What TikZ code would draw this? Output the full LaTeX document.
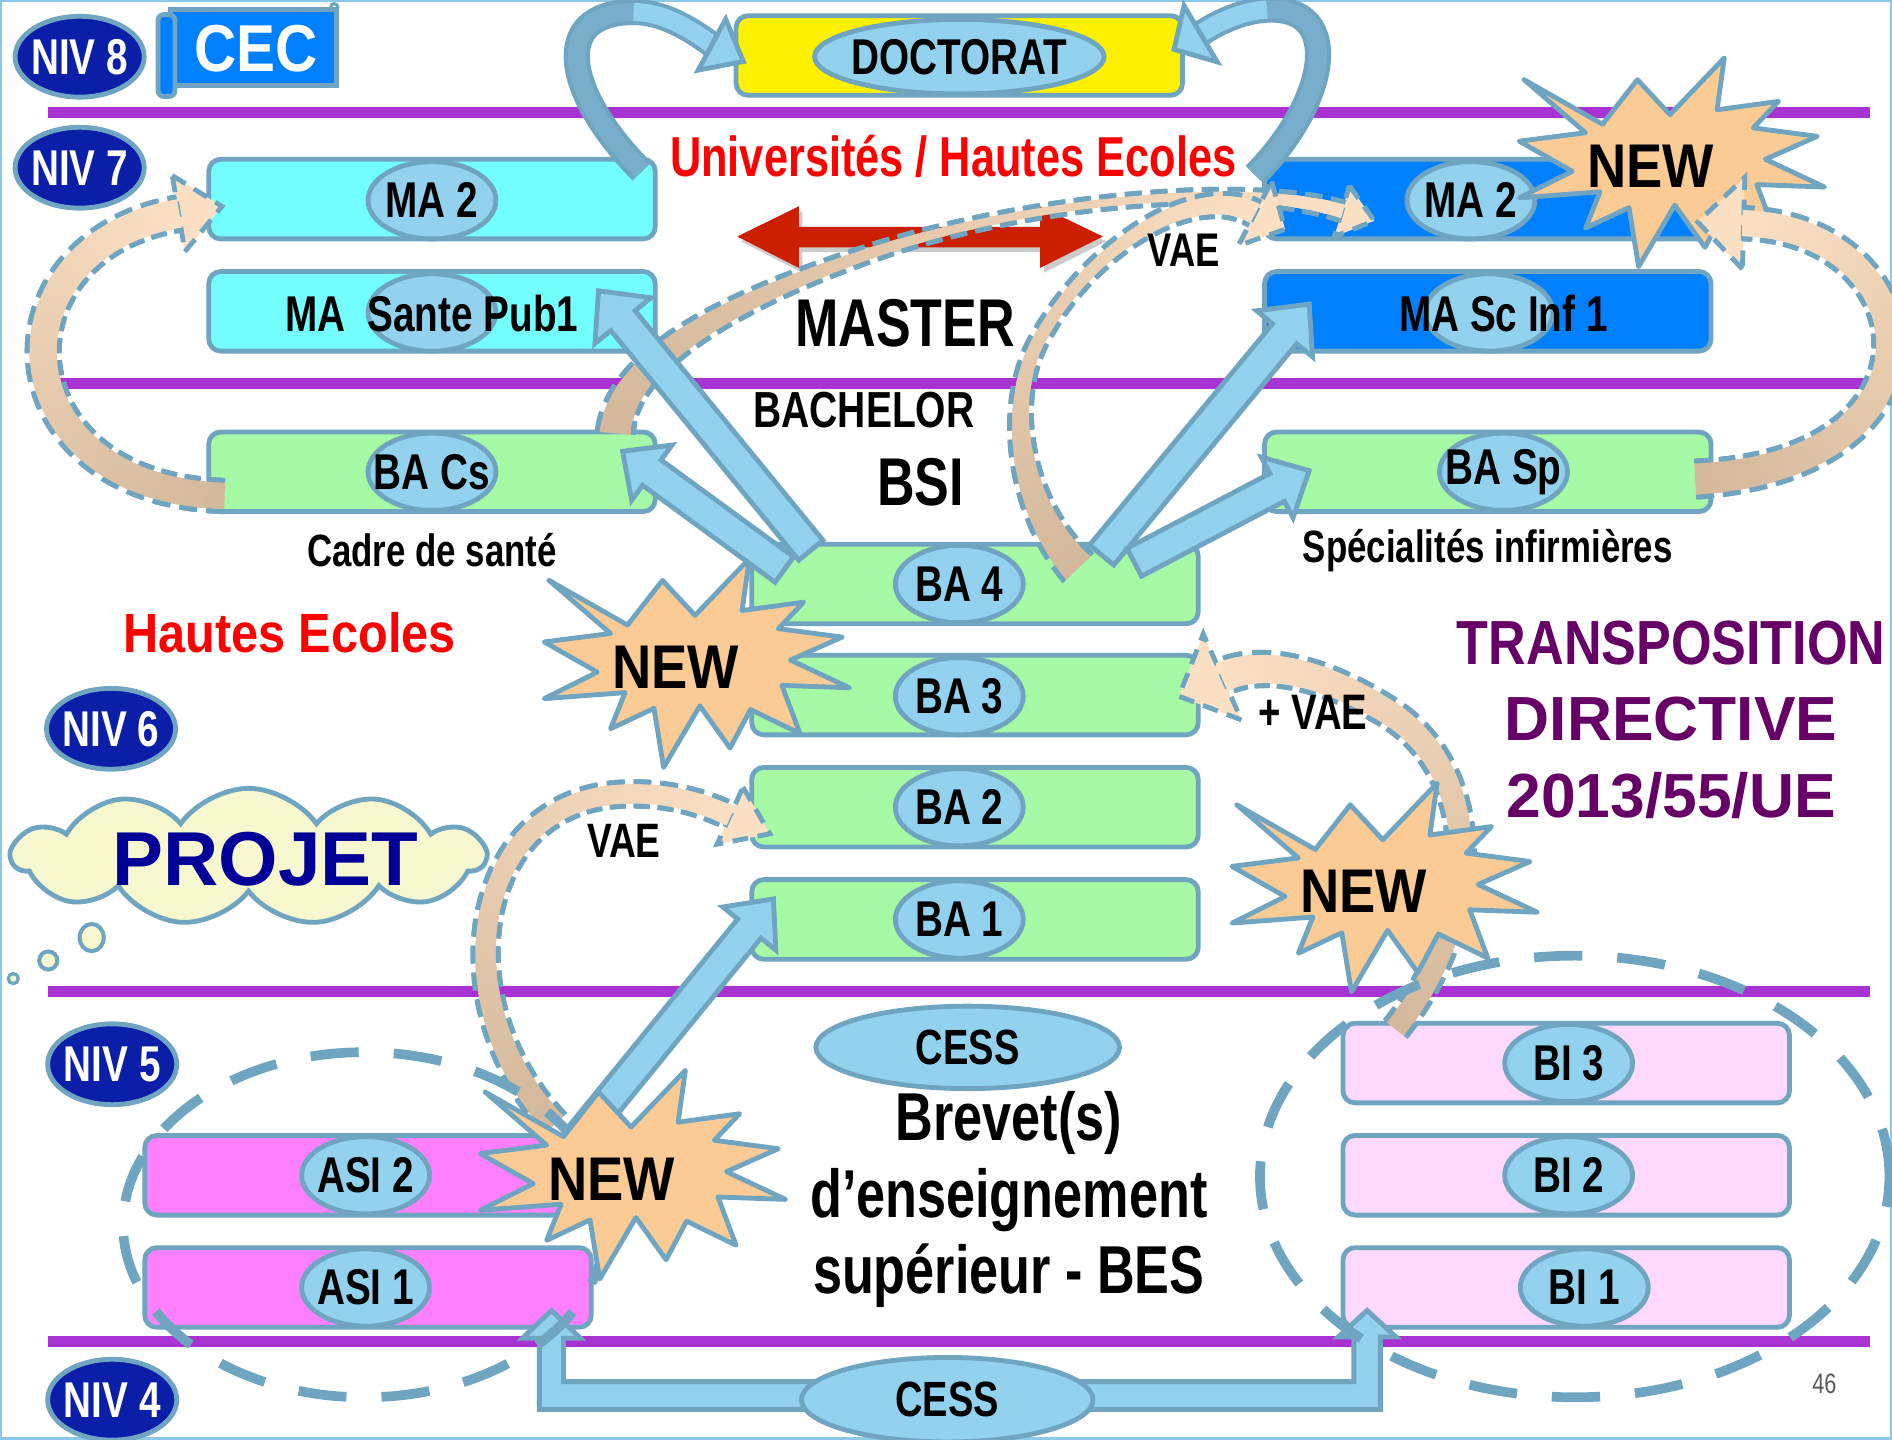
\documentclass[tikz,border=0pt]{standalone}
\usepackage{fontspec}
\usepackage{graphicx}
\setmainfont{Liberation Sans}
\newfontfamily\condfam{Liberation Sans}[FakeStretch=0.77]
\newfontfamily\midfam{Liberation Sans}[FakeStretch=0.88]
\newcommand\tcond[1]{\condfam\bfseries\fontsize{#1}{#1}\selectfont}
\newcommand\tmid[1]{\midfam\bfseries\fontsize{#1}{#1}\selectfont}
\newcommand\tfull[1]{\rmfamily\bfseries\fontsize{#1}{#1}\selectfont}
\usetikzlibrary{shapes.geometric,shapes.symbols,calc,decorations.markings}

\definecolor{bordc}{HTML}{6FA5C0}
\definecolor{ellc}{HTML}{92D2EE}
\definecolor{nivc}{HTML}{0A1EA8}
\definecolor{cyanbox}{HTML}{73FFFF}
\definecolor{bluebox}{HTML}{0080FF}
\definecolor{greenbox}{HTML}{A6FAA6}
\definecolor{magbox}{HTML}{FF80FF}
\definecolor{pinkbox}{HTML}{FFD9FF}
\definecolor{starc}{HTML}{FBCB96}
\definecolor{tanc}{HTML}{D4B89C}
\definecolor{peachc}{HTML}{FCE0C4}
\definecolor{linec}{HTML}{A932D2}
\definecolor{redarrow}{HTML}{CC1E00}
\definecolor{univred}{HTML}{FF0000}
\definecolor{dirc}{HTML}{660066}
\definecolor{projc}{HTML}{000099}
\definecolor{cloudc}{HTML}{F8F8D0}
\definecolor{ribdark}{HTML}{78AECB}
\definecolor{framec}{HTML}{8CC8E8}

% straight block arrow: start, tip, shaft half width, head half width, head length
\newcommand\blockarrow[5]{%
  \coordinate (bah) at ($(#2)!#5!(#1)$);
  \draw[blockarr] ($(#1)!#3!90:(#2)$) -- ($(bah)!#3!90:(#2)$) -- ($(bah)!#4!90:(#2)$) -- (#2)
     -- ($(bah)!#4!-90:(#2)$) -- ($(bah)!#3!-90:(#2)$) -- ($(#1)!#3!-90:(#2)$) -- cycle;}

% head of a VAE band: base, tip, half width
\newcommand\vaehead[3]{%
  \draw[vaehd] ($(#1)!#3!90:(#2)$) -- (#2) -- ($(#1)!#3!-90:(#2)$) -- cycle;}

% VAE band with tan-to-peach gradient and dashed edges:
% path, tail width, middle control width, head width (pt)
\newcommand\vaeband[4]{%
  \path[decorate, decoration={markings, mark=between positions 0 and 1 step 0.6pt with {%
    \pgfmathsetmacro\vbp{\pgfkeysvalueof{/pgf/decoration/mark info/distance from start}/\pgfdecoratedpathlength}%
    \pgfmathsetlengthmacro\vbw{0.5*((#2)*(1-\vbp)^2+2*(#3)*\vbp*(1-\vbp)+(#4)*\vbp^2)}%
    \pgfmathtruncatemacro\vbc{100*\vbp}%
    \fill[peachc!\vbc!tanc] (-0.7pt,-\vbw) rectangle (0.7pt,\vbw);%
    \pgfmathtruncatemacro\vbd{mod(\pgfkeysvalueof{/pgf/decoration/mark info/distance from start},12.6)<7.8}%
    \ifnum\vbd=1\relax
      \fill[bordc] (-0.7pt,\vbw) rectangle (0.7pt,\vbw+2.4pt);%
      \fill[bordc] (-0.7pt,-\vbw) rectangle (0.7pt,-\vbw-2.4pt);%
    \fi}}] #1;}

% ellipse label with its text: name, centre, text
\newcommand\elabel[3]{%
  \node[lab] (#1) at (#2) {};
  \node[labt] (#1x) at (#2) {#3};}
% level badge: name, centre, text
\newcommand\nivbadge[3]{%
  \node[niv] (#1) at (#2) {};
  \node[nivt] (#1x) at (#2) {#3};}

\tikzset{
  box/.style={draw=bordc, line width=2.4pt, rounded corners=6pt, minimum width=222pt, minimum height=39.6pt, inner sep=0pt},
  lab/.style={ellipse, draw=bordc, fill=ellc, line width=2.4pt, minimum width=63.6pt, minimum height=38.4pt, inner sep=0pt},
  labt/.style={font=\tcond{25}, inner sep=0pt},
  niv/.style={ellipse, draw=bordc, fill=nivc, line width=2.4pt, minimum width=64.2pt, minimum height=40.2pt, inner sep=0pt},
  nivt/.style={text=white, font=\tcond{25}, inner sep=0pt},
  burst/.style={fill=starc, draw=bordc, line width=2.4pt, line join=round},
  blockarr/.style={fill=ellc, draw=bordc, line width=2.4pt, line join=miter},
  bigdash/.style={draw=bordc, line width=4.8pt, dash pattern=on 24pt off 17.4pt},
  vaehd/.style={fill=peachc, draw=bordc, line width=2.4pt, dash pattern=on 7.8pt off 4.8pt},
  newtxt/.style={font=\tmid{30.7}},
  burstpic/.pic={\draw[burst] (-105,-72) -- (-40,-35) -- (-11,-72) -- (16,-43) -- (61,-90) -- (55,-47)
      -- (106,-54) -- (85,-32) -- (138,-25) -- (95,-6) -- (144,17) -- (88,15) -- (103,55) -- (62,35)
      -- (45,67) -- (20,32) -- (-10,83) -- (-18,34) -- (-54,51) -- (-42,21) -- (-109,26) -- (-65,4)
      -- (-109,-21) -- (-54,-28) -- cycle;}
}

\begin{document}
\begin{tikzpicture}[x=0.6pt,y=-0.6pt]
\useasboundingbox (0,0) rectangle (1568,1193);
\fill[white] (0,0) rectangle (1568,1193);
\draw[framec, line width=1.2pt] (1,1) rectangle (1567,1192);

% level separators
\foreach \yy in {93,318,822,1112} \draw[linec, line width=5.4pt] (40,\yy) -- (1550,\yy);

% doctorate
\node[box, fill=yellow] (docbox) at (795,46) {};
\node[lab, minimum width=144pt, minimum height=37pt] (doc) at (795,47) {};
\node[labt] (docx) at (795,47) {DOCTORAT};

% master / bachelor, left column
\node[box, fill=cyanbox] (ma2l) at (358,165) {};
\elabel{ma2lt}{358,166}{MA 2}
\node[box, fill=cyanbox] (masp) at (358,258) {};
\elabel{maspe}{358,259}{}
\node[labt] (maspt) at (358,260) {MA\ \ Sante Pub1};
\node[box, fill=greenbox] (bacs) at (358,391) {};
\elabel{bacst}{358,391}{BA Cs}

% right column
\node[box, fill=bluebox] (ma2r) at (1233,165) {};
\elabel{ma2rt}{1219,166}{MA 2}
\node[box, fill=bluebox] (masc) at (1233,258) {};
\elabel{masce}{1234,259}{}
\node[labt] (masct) at (1246,260) {MA Sc Inf 1};
\node[box, fill=greenbox] (basp) at (1233,391) {};
\elabel{baspt}{1246,391}{BA Sp}

% bachelor years
\node[box, fill=greenbox] (ba4) at (808,484) {};
\elabel{ba4t}{795,484}{BA 4}
\node[box, fill=greenbox] (ba3) at (808,576) {};
\elabel{ba3t}{795,577}{BA 3}
\node[box, fill=greenbox] (ba2) at (808,669) {};
\elabel{ba2t}{795,669}{BA 2}
\node[box, fill=greenbox] (ba1) at (808,762) {};
\elabel{ba1t}{795,762}{BA 1}

% level 5
\node[box, fill=magbox] (asi2) at (305,974) {};
\elabel{asi2t}{303,974}{ASI 2}
\node[box, fill=magbox] (asi1) at (305,1067) {};
\elabel{asi1t}{303,1067}{ASI 1}
\node[box, fill=pinkbox] (bi3) at (1298,881) {};
\elabel{bi3t}{1300,881}{BI 3}
\node[box, fill=pinkbox] (bi2) at (1298,974) {};
\elabel{bi2t}{1300,974}{BI 2}
\node[box, fill=pinkbox] (bi1) at (1298,1067) {};
\elabel{bi1t}{1313,1067}{BI 1}

% level badges
\nivbadge{niv8}{66,47}{NIV 8}
\nivbadge{niv7}{66,139}{NIV 7}
\nivbadge{niv6}{92,604}{NIV 6}
\nivbadge{niv5}{93,882}{NIV 5}
\nivbadge{niv4}{93,1160}{NIV 4}

% CEC scroll
\draw[fill=bluebox, draw=bordc, line width=2.4pt] (141,8) rectangle (279,71);
\draw[fill=bluebox, draw=bordc, line width=2.4pt, rounded corners=3pt] (131,12) rectangle (145,80);
\draw[bordc, line width=1.5pt] (277,6) circle (3);
\node[text=white, font=\tmid{33}] (cec) at (212,40) {CEC};

% red double arrow with its shadow
\fill[black, opacity=0.2] (614,200) -- (665,175) -- (665,192) -- (865,192) -- (865,175) -- (917,200)
   -- (865,226) -- (865,209) -- (665,209) -- (665,226) -- cycle;
\fill[redarrow] (611,196) -- (662,171) -- (662,188) -- (862,188) -- (862,171) -- (914,196)
   -- (862,222) -- (862,205) -- (662,205) -- (662,222) -- cycle;

% ribbons up to the doctorate
\coordinate (rlS) at (532,142);
\coordinate (rlB) at (590,37);
\coordinate (rlT) at (616,51);
\draw[bordc, line width=13pt] (rlS) .. controls (468,78) and (455,10) .. (525,10) .. controls (550,10) and (572,24) .. (rlB);
\draw[ribdark, line width=9pt] (rlS) .. controls (468,78) and (455,10) .. (525,10);
\draw[ellc, line width=9pt] (525,10) .. controls (550,10) and (572,24) .. (rlB);
\draw[blockarr] ($(rlB)!14.4pt!90:(rlT)$) -- (rlT) -- ($(rlB)!14.4pt!-90:(rlT)$) -- cycle;
\coordinate (rrS) at (1040,145);
\coordinate (rrB) at (995,28);
\coordinate (rrT) at (973,41);
\draw[bordc, line width=13pt] (rrS) .. controls (1100,85) and (1115,5) .. (1050,8) .. controls (1030,9) and (1010,18) .. (rrB);
\draw[ribdark, line width=9pt] (rrS) .. controls (1100,85) and (1115,5) .. (1050,8);
\draw[ellc, line width=9pt] (1050,8) .. controls (1030,9) and (1010,18) .. (rrB);
\draw[blockarr] ($(rrB)!16.2pt!90:(rrT)$) -- (rrT) -- ($(rrB)!16.2pt!-90:(rrT)$) -- cycle;

% VAE bands towards the right master
\coordinate (vaB) at (1112,175); \coordinate (vaT) at (1139,183);
\vaehead{vaB}{vaT}{13.2pt}
\vaeband{(510,358) .. controls (515,300) and (600,250) .. (730,207) .. controls (860,165) and (1030,150) .. (vaB)}{15.6}{-2.4}{7.2}
\coordinate (vbB) at (1040,177); \coordinate (vbT) at (1065,190);
\vaehead{vbB}{vbT}{18pt}
\vaeband{(893,470) .. controls (845,420) and (830,330) .. (865,275) .. controls (905,205) and (990,150) .. (vbB)}{16.8}{-1.2}{10.8}

% NEW next to BA 3
\pic (new1) at (560,553) {burstpic};
\node[newtxt] (new1t) at (560,553) {NEW};

% bachelor to master block arrows
\coordinate (aS) at (672,456); \coordinate (aT) at (496,241);
\blockarrow{aS}{aT}{7.8pt}{18pt}{19.2pt}
\coordinate (bS) at (650,472); \coordinate (bT) at (516,374);
\blockarrow{bS}{bT}{7.8pt}{17pt}{18pt}
\coordinate (cS) at (913,460); \coordinate (cT) at (1085,252);
\blockarrow{cS}{cT}{7.8pt}{18pt}{19.2pt}
\coordinate (dS) at (940,466); \coordinate (dT) at (1085,390);
\blockarrow{dS}{dT}{7.8pt}{17pt}{18pt}

% VAE loops beside the master columns
\coordinate (vlB) at (148,177); \coordinate (vlT) at (184,171);
\vaehead{vlB}{vlT}{19.2pt}
\vaeband{(185,411) .. controls (-2,405) and (-12,205) .. (vlB)}{13.2}{13.2}{14.4}
\pic (new2) at (1368,138) {burstpic};
\node[newtxt] (new2t) at (1368,138) {NEW};
\coordinate (vrB) at (1445,185); \coordinate (vrT) at (1407,184);
\vaehead{vrB}{vrT}{22.8pt}
\vaeband{(1406,397) .. controls (1625,385) and (1600,190) .. (vrB)}{15.6}{12}{13.2}

% level 5 to bachelor
\coordinate (v5B) at (605,676); \coordinate (v5T) at (638,691);
\vaehead{v5B}{v5T}{15.6pt}
\vaeband{(459,931) .. controls (365,830) and (390,660) .. (520,658) .. controls (560,657) and (587,668) .. (v5B)}{12}{8.4}{10.2}
\coordinate (eS) at (478,945); \coordinate (eT) at (641,745);
\blockarrow{eS}{eT}{7.5pt}{17pt}{19pt}

\coordinate (v6B) at (1013,561); \coordinate (v6T) at (977,577);
\vaehead{v6B}{v6T}{23.4pt}
\vaeband{(1157,852) .. controls (1230,760) and (1230,640) .. (1150,590) .. controls (1110,565) and (1054,543) .. (v6B)}{10.8}{9.6}{15}

% CESS elbow arrow
\coordinate (asitip) at (457,1086);
\coordinate (bitip) at (1133,1086);
\draw[blockarr] (asitip) -- (481,1109) -- (467,1109) -- (467,1145) -- (1122,1145) -- (1122,1108) -- (1109,1108)
  -- (bitip) -- (1157,1108) -- (1144,1108) -- (1144,1168) -- (447,1168) -- (447,1109) -- (433,1109) -- cycle;
\node[lab, minimum width=145pt, minimum height=42pt] (cessb) at (785,1160) {};
\node[labt, font=\tcond{24.6}] (cessbx) at (785,1160) {CESS};

% dashed groups and NEW stars of the lower levels
\node[ellipse, bigdash, minimum width=240pt, minimum height=171.6pt] (asigrp) at (302,1015) {};
\pic (new4) at (507,977) {burstpic};
\node[newtxt] (new4t) at (507,977) {NEW};
\pic (new3) at (1130,739) {burstpic};
\node[newtxt] (new3t) at (1130,739) {NEW};
\node[ellipse, bigdash, minimum width=313pt, minimum height=219.6pt] (bigrp) at (1305,975) {};

\node[lab, minimum width=151pt, minimum height=41pt] (cesst) at (802,868) {};
\node[labt, font=\tcond{24.6}] (cesstx) at (802,868) {CESS};

% labels
\node[font=\tcond{28}, text=univred] (univ) at (790,130) {Universités / Hautes Ecoles};
\node[font=\tcond{33.6}] (master) at (750,268) {MASTER};
\node[font=\tcond{25.2}] (bachelor) at (716,340) {BACHELOR};
\node[font=\tcond{33.6}] (bsi) at (763,400) {BSI};
\node[font=\tcond{23.5}] (vaetop) at (981,207) {VAE};
\node[font=\tcond{22.5}] (cadre) at (358,456) {Cadre de santé};
\node[font=\tcond{22.5}] (spec) at (1233,456) {Spécialités infirmières};
\node[font=\tmid{27.5}, text=univred] (hes) at (240,524) {Hautes Ecoles};
\node[font=\tcond{24.8}] (plusvae) at (1088,590) {+ VAE};
\node[font=\tcond{24}] (vaebot) at (517,697) {VAE};
\node[font=\tfull{31}, text=dirc] (transp) at (1385,533) {\scalebox{0.836}[1]{TRANSPOSITION}};
\node[font=\tfull{31}, text=dirc] (direct) at (1385,596) {DIRECTIVE};
\node[font=\tfull{31}, text=dirc] (dirnum) at (1385,659) {2013/55/UE};
\node[font=\tcond{33.7}] (bes1) at (836,931) {Brevet(s)};
\node[font=\tcond{33.7}] (bes2) at (836,995) {d’enseignement};
\node[font=\tcond{33.7}] (bes3) at (836,1057) {supérieur - BES};
\node[font=\condfam\fontsize{14}{14}\selectfont, text=black!65] (pagenum) at (1512,1147) {46};

% project cloud
\node[cloud, cloud puffs=11, cloud puff arc=110, aspect=3.3, draw=bordc, fill=cloudc, line width=2.4pt,
      minimum width=235pt, minimum height=68pt, inner sep=0pt] (cloudn) at (206,710) {};
\node[font=\tfull{38}, text=projc] (projet) at (220,712) {PROJET};
\node[ellipse, draw=bordc, fill=cloudc, line width=2pt, minimum width=12pt, minimum height=13.5pt, inner sep=0pt] (bub1) at (76,777) {};
\node[ellipse, draw=bordc, fill=cloudc, line width=2pt, minimum width=9pt, minimum height=9pt, inner sep=0pt] (bub2) at (40,796) {};
\node[circle, draw=bordc, fill=cloudc, line width=1.6pt, minimum size=5pt, inner sep=0pt] (bub3) at (11,811) {};
\end{tikzpicture}
\end{document}
